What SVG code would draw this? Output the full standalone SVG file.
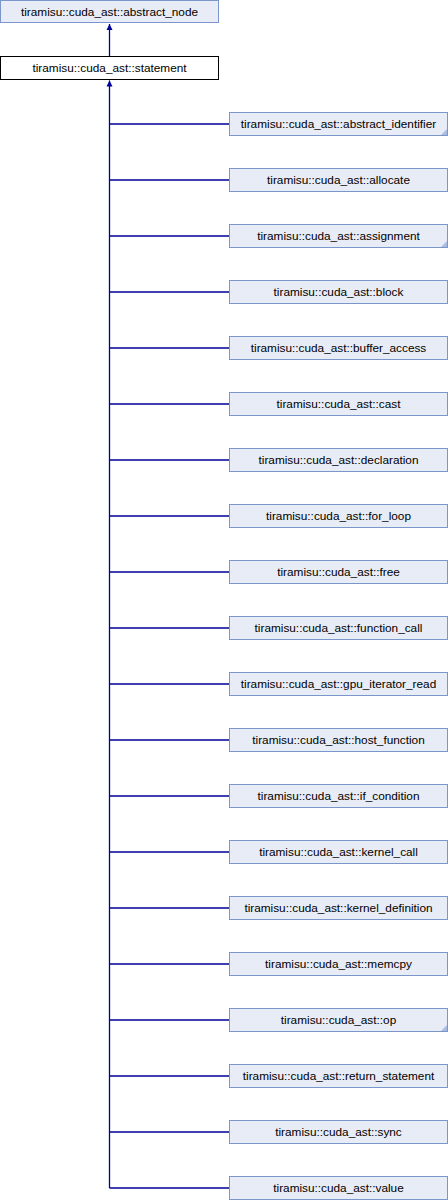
<svg xmlns="http://www.w3.org/2000/svg" width="448" height="1200" viewBox="0 0 448 1200">
<style>
rect.n{fill:#e8ecf6;stroke:#7b96cb;stroke-width:1}
rect.c{fill:#ffffff;stroke:#000000;stroke-width:1}
text{font-family:"Liberation Sans",Arial,sans-serif;font-size:11.8px;fill:#000;text-anchor:middle}
.e{fill:none;stroke:#000099;stroke-width:1.3}
.m{fill:#a9bde2}
</style>
<defs>
<marker id="ah" markerWidth="8" markerHeight="8" refX="6" refY="4" orient="auto" markerUnits="userSpaceOnUse">
<path d="M0,1 L6,4 L0,7 Z" fill="#000099"/>
</marker>
</defs>
<rect width="448" height="1200" fill="#ffffff"/>
<g id="connectors">
<path class="e" d="M109.5,56.5 V24" marker-end="url(#ah)"/>
<path class="e" d="M109.5,1188 V80.5" marker-end="url(#ah)"/>
<path class="e" d="M109.5,124 H229 M109.5,180 H229 M109.5,236 H229 M109.5,292 H229 M109.5,348 H229 M109.5,404 H229 M109.5,460 H229 M109.5,516 H229 M109.5,572 H229 M109.5,628 H229 M109.5,684 H229 M109.5,740 H229 M109.5,796 H229 M109.5,852 H229 M109.5,908 H229 M109.5,964 H229 M109.5,1020 H229 M109.5,1076 H229 M109.5,1132 H229 M109.5,1188 H229"/>
</g>
<g id="abstract_node"><rect class="n" x="0.5" y="0.5" width="218" height="22"/><text x="109.5" y="16">tiramisu::cuda_ast::abstract_node</text></g>
<g id="statement"><rect class="c" x="0.5" y="56.5" width="218" height="23"/><text x="109.5" y="72">tiramisu::cuda_ast::statement</text></g>
<g id="abstract_identifier"><rect class="n" x="229.5" y="112.5" width="218" height="23"/><polygon class="m" points="441,135 447,135 447,129"/><text x="338.5" y="128">tiramisu::cuda_ast::abstract_identifier</text></g>
<g id="allocate"><rect class="n" x="229.5" y="168.5" width="218" height="23"/><text x="338.5" y="184">tiramisu::cuda_ast::allocate</text></g>
<g id="assignment"><rect class="n" x="229.5" y="224.5" width="218" height="23"/><polygon class="m" points="441,247 447,247 447,241"/><text x="338.5" y="240">tiramisu::cuda_ast::assignment</text></g>
<g id="block"><rect class="n" x="229.5" y="280.5" width="218" height="23"/><text x="338.5" y="296">tiramisu::cuda_ast::block</text></g>
<g id="buffer_access"><rect class="n" x="229.5" y="336.5" width="218" height="23"/><text x="338.5" y="352">tiramisu::cuda_ast::buffer_access</text></g>
<g id="cast"><rect class="n" x="229.5" y="392.5" width="218" height="23"/><text x="338.5" y="408">tiramisu::cuda_ast::cast</text></g>
<g id="declaration"><rect class="n" x="229.5" y="448.5" width="218" height="23"/><text x="338.5" y="464">tiramisu::cuda_ast::declaration</text></g>
<g id="for_loop"><rect class="n" x="229.5" y="504.5" width="218" height="23"/><text x="338.5" y="520">tiramisu::cuda_ast::for_loop</text></g>
<g id="free"><rect class="n" x="229.5" y="560.5" width="218" height="23"/><text x="338.5" y="576">tiramisu::cuda_ast::free</text></g>
<g id="function_call"><rect class="n" x="229.5" y="616.5" width="218" height="23"/><text x="338.5" y="632">tiramisu::cuda_ast::function_call</text></g>
<g id="gpu_iterator_read"><rect class="n" x="229.5" y="672.5" width="218" height="23"/><text x="338.5" y="688">tiramisu::cuda_ast::gpu_iterator_read</text></g>
<g id="host_function"><rect class="n" x="229.5" y="728.5" width="218" height="23"/><text x="338.5" y="744">tiramisu::cuda_ast::host_function</text></g>
<g id="if_condition"><rect class="n" x="229.5" y="784.5" width="218" height="23"/><text x="338.5" y="800">tiramisu::cuda_ast::if_condition</text></g>
<g id="kernel_call"><rect class="n" x="229.5" y="840.5" width="218" height="23"/><text x="338.5" y="856">tiramisu::cuda_ast::kernel_call</text></g>
<g id="kernel_definition"><rect class="n" x="229.5" y="896.5" width="218" height="23"/><text x="338.5" y="912">tiramisu::cuda_ast::kernel_definition</text></g>
<g id="memcpy"><rect class="n" x="229.5" y="952.5" width="218" height="23"/><text x="338.5" y="968">tiramisu::cuda_ast::memcpy</text></g>
<g id="op"><rect class="n" x="229.5" y="1008.5" width="218" height="23"/><polygon class="m" points="441,1031 447,1031 447,1025"/><text x="338.5" y="1024">tiramisu::cuda_ast::op</text></g>
<g id="return_statement"><rect class="n" x="229.5" y="1064.5" width="218" height="23"/><text x="338.5" y="1080">tiramisu::cuda_ast::return_statement</text></g>
<g id="sync"><rect class="n" x="229.5" y="1120.5" width="218" height="23"/><text x="338.5" y="1136">tiramisu::cuda_ast::sync</text></g>
<g id="value"><rect class="n" x="229.5" y="1176.5" width="218" height="23"/><text x="338.5" y="1192">tiramisu::cuda_ast::value</text></g>
</svg>
